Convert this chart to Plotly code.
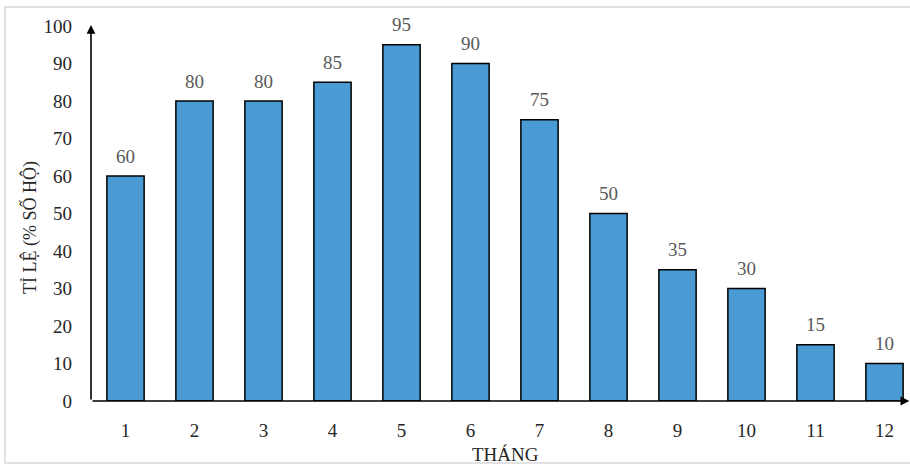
import plotly.graph_objects as go

months = [1, 2, 3, 4, 5, 6, 7, 8, 9, 10, 11, 12]
month_labels = ["1", "2", "3", "4", "5", "6", "7", "8", "9", "10", "11", "12"]
rates = [60, 80, 80, 85, 95, 90, 75, 50, 35, 30, 15, 10]
y_ticks = [0, 10, 20, 30, 40, 50, 60, 70, 80, 90, 100]

FONT = "Liberation Serif"
FS = 19
W, H = 910, 466
ML, MR, MT, MB = 91, 0, 26, 65
PW, PH = W - ML - MR, H - MT - MB
XMIN = 0.5
XMAX = XMIN + PW / 69.0

def px_x(px):
    return (px - ML) / PW

def px_y(py):
    return (H - MB - py) / PH

fig = go.Figure()
fig.add_trace(go.Bar(
    x=months, y=rates, width=0.54,
    marker=dict(color="#4A9BD4", line=dict(color="#000000", width=1.5)),
    hoverinfo="x+y",
))

for m, v in zip(months, rates):
    fig.add_annotation(x=m, y=v, text=str(v), showarrow=False, yshift=20,
                       font=dict(family=FONT, size=FS, color="#595959"))

# axes with arrows
fig.add_annotation(x=XMIN, y=100.3, ax=XMIN, ay=0, xref="x", yref="y", axref="x", ayref="y",
                   showarrow=True, arrowhead=2, arrowsize=1.1, arrowwidth=1.6, arrowcolor="#000000", text="")
fig.add_annotation(x=XMAX - 0.01, y=0, ax=XMIN, ay=0, xref="x", yref="y", axref="x", ayref="y",
                   showarrow=True, arrowhead=2, arrowsize=1.1, arrowwidth=1.6, arrowcolor="#000000", text="")

# axis titles
fig.add_annotation(x=px_x(30), y=px_y(228), xref="paper", yref="paper", text="TỈ LỆ (% SỐ HỘ)",
                   textangle=-90, showarrow=False, xanchor="center", yanchor="middle",
                   font=dict(family=FONT, size=18, color="#262626"))
fig.add_annotation(x=px_x(505), y=px_y(455), xref="paper", yref="paper", text="THÁNG",
                   showarrow=False, xanchor="center", yanchor="middle",
                   font=dict(family=FONT, size=FS, color="#262626"))

fig.update_layout(
    width=W, height=H,
    margin=dict(l=ML, r=MR, t=MT, b=MB, autoexpand=False),
    paper_bgcolor="white", plot_bgcolor="white",
    showlegend=False,
    font=dict(family=FONT, size=FS, color="#262626"),
    xaxis=dict(range=[XMIN, XMAX], tickmode="array", tickvals=months, ticktext=month_labels,
               automargin=False,
               showgrid=False, zeroline=False, showline=False, ticks="", ticklabelstandoff=16,
               tickfont=dict(family=FONT, size=FS, color="#262626")),
    yaxis=dict(range=[0, 100], tickmode="array", tickvals=y_ticks, automargin=False,
               showgrid=False, zeroline=False, showline=False, ticks="", ticklabelstandoff=18,
               tickfont=dict(family=FONT, size=FS, color="#262626")),
    shapes=[dict(type="rect", xref="paper", yref="paper",
                 x0=px_x(5), x1=px_x(960),
                 y0=px_y(463), y1=px_y(7),
                 line=dict(color="#D9D9D9", width=1.5), fillcolor="rgba(0,0,0,0)", layer="below")],
)

fig.write_html("out.html", config={"displayModeBar": False},
               post_script="document.body.style.margin='0';document.body.style.overflow='hidden';")
